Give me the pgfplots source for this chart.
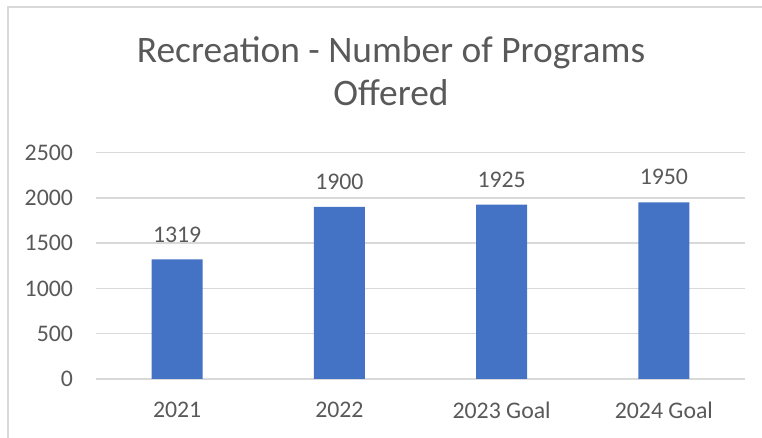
\documentclass[border=0pt]{standalone}
\usepackage{pgfplots}
\pgfplotsset{compat=1.18}
\usepackage{fontspec}
\setmainfont{Carlito}
\definecolor{txt}{HTML}{595959}
\definecolor{barblue}{HTML}{4472C4}
\definecolor{gridc}{HTML}{D9D9D9}

\begin{document}
\begin{tikzpicture}
\path[use as bounding box] (0,0) rectangle (381bp,219bp);
% chart frame (only left and top edges are visible)
\draw[gridc, line width=0.75bp] (4bp,0) -- (4bp,215.5bp) -- (381bp,215.5bp);

\node[anchor=base, text=txt, font=\fontsize{18.7bp}{22bp}\selectfont, inner sep=0pt]
  at (195.5bp,187.5bp) {Recreation - Number of Programs};
\node[anchor=base, text=txt, font=\fontsize{18.7bp}{22bp}\selectfont, inner sep=0pt]
  at (195.5bp,166bp) {Offered};

\begin{axis}[
    at={(48bp,29.5bp)}, anchor=south west,
    scale only axis, width=324.5bp, height=113.25bp,
    ybar, bar width=25.5bp,
    xmin=-0.5, xmax=3.5, ymin=0, ymax=2500,
    ytick={0,500,1000,1500,2000,2500},
    xtick={0,1,2,3},
    xticklabels={2021, 2022, 2023 Goal, 2024 Goal},
    axis x line*=bottom, axis y line*=left,
    x axis line style={draw=gridc, line width=0.75bp, -},
    y axis line style={draw=none},
    ymajorgrids, grid style={gridc, line width=0.75bp},
    major tick length=0,
    ticklabel style={font=\fontsize{11.9bp}{14bp}\selectfont, text=txt},
    yticklabel style={xshift=-8bp},
    xticklabel style={yshift=-8bp},
    /pgf/number format/.cd, set thousands separator={}, assume math mode=true,
    /pgfplots/.cd,
    nodes near coords,
    nodes near coords style={font=\fontsize{11.9bp}{14bp}\selectfont, text=txt,
        anchor=base, yshift=8.7bp, inner sep=0pt},
]
\addplot[fill=barblue, draw=none] coordinates {(0,1319) (1,1900) (2,1925) (3,1950)};
\end{axis}
\end{tikzpicture}
\end{document}
